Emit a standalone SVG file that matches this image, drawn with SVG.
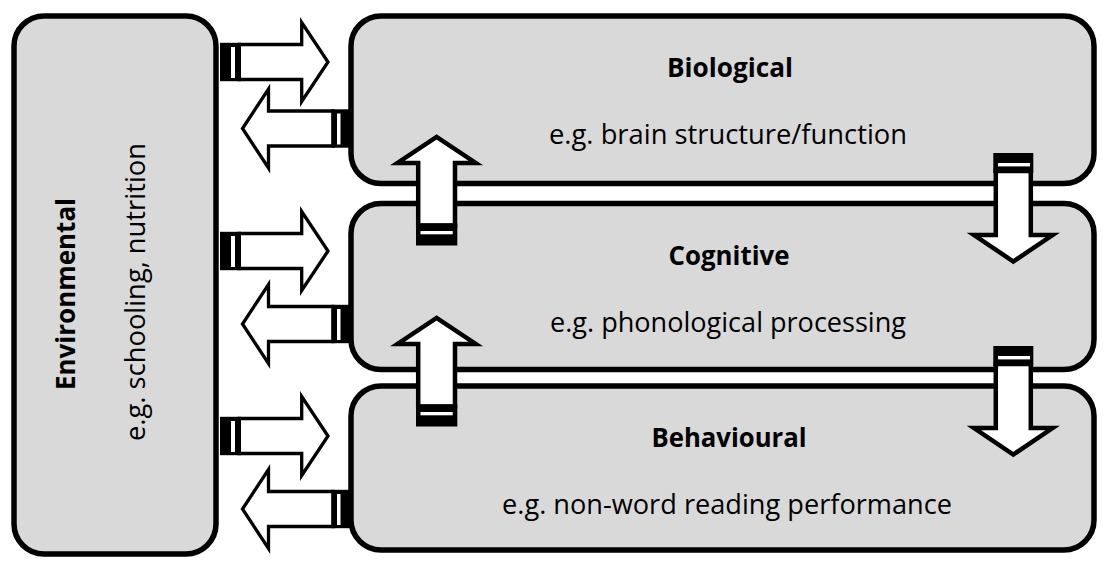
<svg xmlns="http://www.w3.org/2000/svg" width="1105" height="567" viewBox="0 0 1105 567">
<style>
.box{fill:#d9d9d9;stroke:#000;stroke-width:5.5}
.ha{fill:#fff;stroke:#000;stroke-width:3.3;stroke-linejoin:miter;stroke-miterlimit:10}
.va{fill:#fff;stroke:#000;stroke-width:4.5;stroke-linejoin:miter;stroke-miterlimit:10}
.blk{fill:#000}
.wht{fill:#fff}
.t{font-family:"Open Sans","Liberation Sans",sans-serif;font-size:27px;fill:#000;text-anchor:middle}
.b{font-weight:bold}
</style>
<rect width="1105" height="567" fill="#fff"/>
<g id="environmental">
<rect class="box" x="14" y="16" width="202" height="538" rx="30"/>
<text class="t b" transform="translate(75,294) rotate(-90)" textLength="192" lengthAdjust="spacingAndGlyphs">Environmental</text>
<text class="t" transform="translate(145,292) rotate(-90)" textLength="298" lengthAdjust="spacingAndGlyphs">e.g. schooling, nutrition</text>
</g>
<g id="biological">
<rect class="box" x="351" y="16" width="743" height="167.5" rx="30"/>
<text class="t b" x="730" y="77" textLength="126" lengthAdjust="spacingAndGlyphs">Biological</text>
<text class="t" x="728" y="144" textLength="358" lengthAdjust="spacingAndGlyphs">e.g. brain structure/function</text>
</g>
<g id="cognitive">
<rect class="box" x="351" y="203.5" width="743" height="166" rx="30"/>
<text class="t b" x="729" y="264.5" textLength="121" lengthAdjust="spacingAndGlyphs">Cognitive</text>
<text class="t" x="728" y="331.5" textLength="356" lengthAdjust="spacingAndGlyphs">e.g. phonological processing</text>
</g>
<g id="behavioural">
<rect class="box" x="351" y="386" width="743" height="164" rx="30"/>
<text class="t b" x="729" y="447" textLength="155" lengthAdjust="spacingAndGlyphs">Behavioural</text>
<text class="t" x="727" y="513.5" textLength="450" lengthAdjust="spacingAndGlyphs">e.g. non-word reading performance</text>
</g>
<g id="connectors">
<!-- right arrows Env -> boxes -->
<g transform="translate(0,62)">
<polygon class="ha" points="239,-17.5 301.7,-17.5 301.7,-39.5 328,0 301.7,39.5 301.7,17.5 239,17.5"/>
<rect class="blk" x="220" y="-19.2" width="21" height="38.4"/>
<rect class="wht" x="231" y="-15" width="4" height="31"/>
</g>
<g transform="translate(0,251)">
<polygon class="ha" points="239,-17.5 301.7,-17.5 301.7,-39.5 328,0 301.7,39.5 301.7,17.5 239,17.5"/>
<rect class="blk" x="220" y="-19.2" width="21" height="38.4"/>
<rect class="wht" x="231" y="-15" width="4" height="31"/>
</g>
<g transform="translate(0,436)">
<polygon class="ha" points="239,-17.5 301.7,-17.5 301.7,-39.5 328,0 301.7,39.5 301.7,17.5 239,17.5"/>
<rect class="blk" x="220" y="-19.2" width="21" height="38.4"/>
<rect class="wht" x="231" y="-15" width="4" height="31"/>
</g>
<!-- left arrows boxes -> Env -->
<g transform="translate(0,128.5)">
<polygon class="ha" points="333,-17.5 268.5,-17.5 268.5,-39.5 242.5,0 268.5,39.5 268.5,17.5 333,17.5"/>
<rect class="blk" x="331.5" y="-19.2" width="17.5" height="38.4"/>
<rect class="wht" x="337" y="-15" width="3.5" height="31"/>
</g>
<g transform="translate(0,324)">
<polygon class="ha" points="333,-17.5 268.5,-17.5 268.5,-39.5 242.5,0 268.5,39.5 268.5,17.5 333,17.5"/>
<rect class="blk" x="331.5" y="-19.2" width="17.5" height="38.4"/>
<rect class="wht" x="337" y="-15" width="3.5" height="31"/>
</g>
<g transform="translate(0,509)">
<polygon class="ha" points="333,-17.5 268.5,-17.5 268.5,-39.5 242.5,0 268.5,39.5 268.5,17.5 333,17.5"/>
<rect class="blk" x="331.5" y="-19.2" width="17.5" height="38.4"/>
<rect class="wht" x="337" y="-15" width="3.5" height="31"/>
</g>
<!-- up arrows -->
<g transform="translate(0,0)">
<polygon class="va" points="418.2,225.5 418.2,163 397.5,163 436.6,137 475.7,163 455,163 455,225.5"/>
<rect class="blk" x="416" y="223.5" width="41.3" height="22"/>
<rect class="wht" x="420.5" y="231" width="32.2" height="3.3"/>
</g>
<g transform="translate(0,181)">
<polygon class="va" points="418.2,225.5 418.2,163 397.5,163 436.6,137 475.7,163 455,163 455,225.5"/>
<rect class="blk" x="416" y="223.5" width="41.3" height="22"/>
<rect class="wht" x="420.5" y="231" width="32.2" height="3.3"/>
</g>
<!-- down arrows -->
<g transform="translate(0,0)">
<polygon class="va" points="995.8,171 995.8,235 974,235 1013.3,261.5 1052.6,235 1030.8,235 1030.8,171"/>
<rect class="blk" x="993.3" y="153" width="40" height="20"/>
<rect class="wht" x="998" y="163" width="32" height="3.4"/>
</g>
<g transform="translate(0,193)">
<polygon class="va" points="995.8,171 995.8,235 974,235 1013.3,261.5 1052.6,235 1030.8,235 1030.8,171"/>
<rect class="blk" x="993.3" y="153" width="40" height="20"/>
<rect class="wht" x="998" y="163" width="32" height="3.4"/>
</g>
</g>
</svg>
